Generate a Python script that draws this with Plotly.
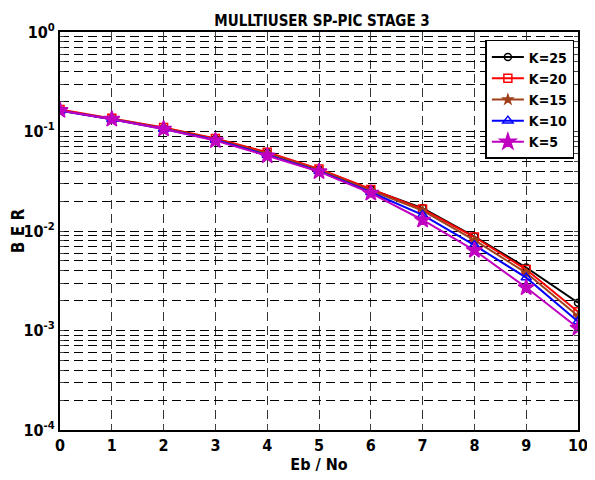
import plotly.graph_objects as go

ebno = [0, 1, 2, 3, 4, 5, 6, 7, 8, 9, 10]
ber_k25 = [0.164, 0.134, 0.108, 0.084, 0.061, 0.0415, 0.0262, 0.0170, 0.0088, 0.0043, 0.0019]
ber_k20 = [0.166, 0.136, 0.110, 0.085, 0.062, 0.0420, 0.0262, 0.0166, 0.0087, 0.0041, 0.00154]
ber_k15 = [0.163, 0.134, 0.108, 0.083, 0.060, 0.0410, 0.0255, 0.0160, 0.0081, 0.0038, 0.0014]
ber_k10 = [0.162, 0.133, 0.106, 0.082, 0.058, 0.0400, 0.0245, 0.0145, 0.0072, 0.0034, 0.00123]
ber_k5 = [0.163, 0.133, 0.106, 0.081, 0.057, 0.0395, 0.0240, 0.0129, 0.0064, 0.0027, 0.00106]

series = [
    ("K=25", ber_k25, "black", "circle-open", 7),
    ("K=20", ber_k20, "red", "square-open", 8),
    ("K=15", ber_k15, "#A0401A", "star", 7),
    ("K=10", ber_k10, "blue", "triangle-up-open", 9),
    ("K=5", ber_k5, "#C000C0", "star", 12),
]

fig = go.Figure()
for name, vals, col, sym, size in series:
    fig.add_trace(go.Scatter(
        x=ebno, y=vals, name=name, mode="lines+markers",
        line=dict(color=col, width=2),
        marker=dict(symbol=sym, size=size, color=col, line=dict(color=col, width=1.5)),
    ))

tickvals = []
ticktext = []
for e in range(-4, 1):
    for m in range(1, 10):
        v = m * 10 ** e
        if v > 1.0001:
            break
        tickvals.append(v)
        ticktext.append(f"10<sup>{e}</sup>" if m == 1 else " ")

font_fam = "DejaVu Sans Condensed, Liberation Sans Narrow, Liberation Sans, Arial, sans-serif"

# page body has an 8px default margin; size the figure so it fits the 595x480 window
fig.update_layout(
    width=587, height=472,
    margin=dict(l=52, r=17, t=24, b=50),
    paper_bgcolor="white", plot_bgcolor="white",
    font=dict(family=font_fam, size=13, color="black"),
    title=dict(text="<b>MULLTIUSER SP-PIC STAGE 3</b>", x=0.535, xanchor="center",
               y=0.985, yanchor="top", font=dict(size=15, family=font_fam)),
    showlegend=True,
    legend=dict(x=0.993, y=0.98, xanchor="right", yanchor="top",
                bordercolor="black", borderwidth=1.5, bgcolor="white",
                font=dict(size=14, family=font_fam, weight="bold"),
                itemwidth=32, tracegroupgap=0),
    xaxis=dict(
        range=[0, 10], tickvals=ebno, ticks="inside", ticklen=5,
        showline=True, linecolor="black", linewidth=2, mirror="ticks",
        showgrid=True, gridcolor="#333333", griddash="9px,5px", gridwidth=1,
        zeroline=False, automargin=False,
        tickfont=dict(size=16, family=font_fam, weight="bold"),
        title=dict(text="<b>Eb / No</b>", font=dict(size=16, family=font_fam), standoff=2),
    ),
    yaxis=dict(
        type="log", range=[-4, 0], tickvals=tickvals, ticktext=ticktext,
        ticks="inside", ticklen=4,
        showline=True, linecolor="black", linewidth=2, mirror="ticks",
        showgrid=True, gridcolor="black", griddash="9px,5px", gridwidth=1,
        zeroline=False, automargin=False,
        tickfont=dict(size=16, family=font_fam, weight="bold"),
        title=dict(text="<b>B E R</b>", font=dict(size=17, family=font_fam), standoff=0),
    ),
)

fig.write_html("out.html")
